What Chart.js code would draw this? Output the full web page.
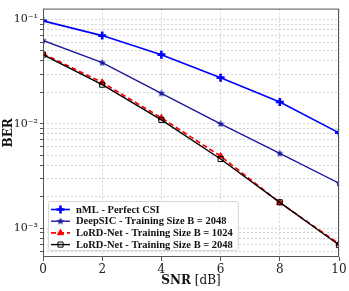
<!DOCTYPE html>
<html>
<head>
<meta charset="utf-8">
<script src="https://cdn.jsdelivr.net/npm/chart.js@4"></script>
<style>
  html, body { margin: 0; padding: 0; background: #fff; }
  #wrap { width: 349px; height: 291px; }
</style>
</head>
<body>
<div id="wrap"><canvas id="ber-chart" width="349" height="291"></canvas></div>
<script>
// --- Data ---
const snr = [0, 2, 4, 6, 8, 10];
const nmlBer = [0.097, 0.070, 0.046, 0.0277, 0.0162, 0.0082];
const deepsicBer = [0.063, 0.0385, 0.0196, 0.0100, 0.0052, 0.0027];
const lord1024Ber = [0.047, 0.0249, 0.0114, 0.0049, 0.00176, 0.00071];
const lord2048Ber = [0.046, 0.0237, 0.0109, 0.0046, 0.00177, 0.00069];
const xTicks = [0, 2, 4, 6, 8, 10];
const yTicks = [6e-4, 7e-4, 8e-4, 9e-4,
  1e-3, 2e-3, 3e-3, 4e-3, 5e-3, 6e-3, 7e-3, 8e-3, 9e-3,
  1e-2, 2e-2, 3e-2, 4e-2, 5e-2, 6e-2, 7e-2, 8e-2, 9e-2, 1e-1];
const yLabels = { '0.1': '10\u207B\u00B9', '0.01': '10\u207B\u00B2', '0.001': '10\u207B\u00B3' };

const SERIF = "'DejaVu Serif', 'Liberation Serif', serif";
const LEGEND_FONT = "bold 10.5px 'Liberation Serif', serif";

// filled star marker like matplotlib '*'
function starMarker(r, color) {
  const c = document.createElement('canvas');
  c.width = c.height = r * 2 + 2;
  const g = c.getContext('2d');
  g.translate(r + 1, r + 1);
  g.beginPath();
  for (let i = 0; i < 10; i++) {
    const rad = i % 2 === 0 ? r : r * 0.42;
    const a = -Math.PI / 2 + i * Math.PI / 5;
    g.lineTo(rad * Math.cos(a), rad * Math.sin(a));
  }
  g.closePath();
  g.fillStyle = color;
  g.fill();
  return c;
}

// frame around plot + mixed-weight x title
const framePlugin = {
  id: 'frame',
  afterDraw(chart) {
    const { ctx, chartArea: a } = chart;
    ctx.save();
    ctx.strokeStyle = '#555';
    ctx.lineWidth = 1;
    ctx.strokeRect(a.left + 0.5, a.top + 0.5, a.right - a.left - 1, a.bottom - a.top - 1);
    ctx.fillStyle = '#111';
    ctx.textBaseline = 'middle';
    const bold = 'bold 12px ' + SERIF;
    const norm = '12px ' + SERIF;
    ctx.font = bold;
    const w1 = ctx.measureText('SNR').width;
    ctx.font = norm;
    const w2 = ctx.measureText(' [dB]').width;
    const cx = (a.left + a.right) / 2;
    const x0 = cx - (w1 + w2) / 2;
    const y0 = 281;
    ctx.textAlign = 'left';
    ctx.font = bold;
    ctx.fillText('SNR', x0, y0);
    ctx.font = norm;
    ctx.fillText(' [dB]', x0 + w1, y0);
    ctx.restore();
  }
};

// matplotlib style legend box, drawn from the datasets
const legendPlugin = {
  id: 'legendBox',
  afterDatasetsDraw(chart) {
    const { ctx, chartArea: a } = chart;
    const ds = chart.data.datasets;
    const bx = a.left + 5, by = 201, bh = 49, rowH = 11.7;
    ctx.save();
    ctx.font = LEGEND_FONT;
    const tw = Math.max(...ds.map(d => ctx.measureText(d.label).width));
    const bw = 28 + tw + 5;
    ctx.fillStyle = 'rgba(255,255,255,0.85)';
    ctx.strokeStyle = '#d6d6d6';
    ctx.lineWidth = 1;
    ctx.beginPath();
    ctx.roundRect(bx + 0.5, by + 0.5, bw, bh, 2);
    ctx.fill();
    ctx.stroke();
    ds.forEach((d, i) => {
      const y = by + 8.5 + i * rowH;
      ctx.strokeStyle = d.borderColor;
      ctx.lineWidth = d.borderWidth;
      ctx.setLineDash(d.borderDash || []);
      ctx.beginPath();
      ctx.moveTo(bx + 3, y);
      ctx.lineTo(bx + 22, y);
      ctx.stroke();
      ctx.setLineDash([]);
      const o = chart.getDatasetMeta(i).data[0].options;
      ctx.fillStyle = o.backgroundColor;
      ctx.strokeStyle = o.borderColor;
      ctx.lineWidth = o.borderWidth;
      Chart.helpers.drawPoint(ctx, {
        pointStyle: o.pointStyle, rotation: o.rotation, radius: o.radius,
        borderWidth: o.borderWidth,
      }, bx + 12.5, y);
      ctx.fillStyle = '#111';
      ctx.font = LEGEND_FONT;
      ctx.textBaseline = 'middle';
      ctx.textAlign = 'left';
      ctx.fillText(d.label, bx + 28, y + 0.5);
    });
    ctx.restore();
  }
};

const ctx = document.getElementById('ber-chart').getContext('2d');
new Chart(ctx, {
  type: 'line',
  data: {
    labels: snr,
    datasets: [
      {
        label: 'nML - Perfect CSI',
        data: snr.map((s, i) => ({ x: s, y: nmlBer[i] })),
        borderColor: '#0000ff',
        backgroundColor: '#0000ff',
        borderWidth: 1.6,
        pointStyle: 'cross',
        pointRadius: 4,
        pointBorderWidth: 2.6,
        order: 3,
      },
      {
        label: 'DeepSIC - Training Size B = 2048',
        data: snr.map((s, i) => ({ x: s, y: deepsicBer[i] })),
        borderColor: '#1a1a9a',
        backgroundColor: '#1a1a9a',
        borderWidth: 1.4,
        pointStyle: starMarker(4, '#1a1a9a'),
        order: 2,
      },
      {
        label: 'LoRD-Net - Training Size B = 1024',
        data: snr.map((s, i) => ({ x: s, y: lord1024Ber[i] })),
        borderColor: '#ff0000',
        backgroundColor: '#ff0000',
        borderWidth: 1.7,
        borderDash: [5, 3],
        pointStyle: 'triangle',
        pointRadius: 3.6,
        pointBorderWidth: 1,
        order: 1,
      },
      {
        label: 'LoRD-Net - Training Size B = 2048',
        data: snr.map((s, i) => ({ x: s, y: lord2048Ber[i] })),
        borderColor: '#000000',
        backgroundColor: 'rgba(0,0,0,0)',
        pointBackgroundColor: 'rgba(0,0,0,0)',
        borderWidth: 1.4,
        pointStyle: 'rect',
        pointRadius: 3.6,
        pointBorderWidth: 1,
        order: 0,
      },
    ]
  },
  options: {
    responsive: false,
    animation: false,
    layout: { padding: { top: 5, right: 10, bottom: 16, left: 0 } },
    plugins: {
      legend: { display: false },
      tooltip: { enabled: false },
    },
    scales: {
      x: {
        type: 'linear',
        min: 0, max: 10,
        afterBuildTicks: axis => { axis.ticks = xTicks.map(v => ({ value: v })); },
        afterFit: axis => { axis.height = 18; },
        grid: { color: '#d4d4d4', tickLength: 4, tickColor: '#555', tickBorderDash: [] },
        border: { display: false, dash: [2, 2] },
        ticks: { color: '#222', font: { family: SERIF, size: 12 }, padding: 2, maxRotation: 0 },
      },
      y: {
        type: 'logarithmic',
        min: 5.3e-4, max: 0.127,
        afterBuildTicks: axis => { axis.ticks = yTicks.map(v => ({ value: v })); },
        afterFit: axis => { axis.width = 43; },
        grid: { color: '#d4d4d4', tickLength: 3, tickColor: '#555', tickBorderDash: [] },
        border: { display: false, dash: [2, 2] },
        ticks: {
          color: '#222',
          font: { family: SERIF, size: 11 },
          padding: 2,
          autoSkip: false,
          callback: v => yLabels[String(v)] || '',
        },
        title: { display: true, text: 'BER', color: '#111', font: { family: SERIF, size: 12, weight: 'bold' }, padding: { top: 2, bottom: 0 } },
      }
    }
  },
  plugins: [framePlugin, legendPlugin]
});
</script>
</body>
</html>
